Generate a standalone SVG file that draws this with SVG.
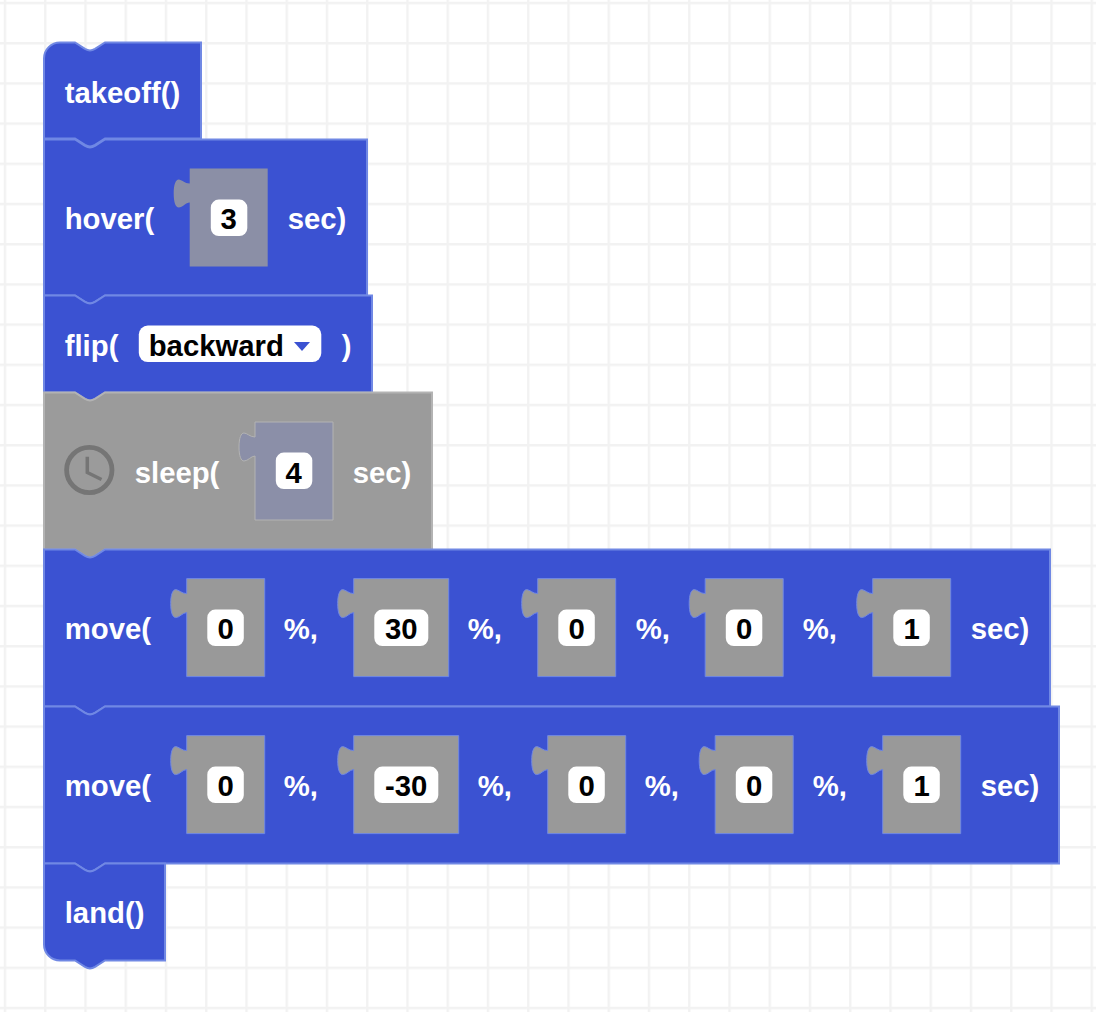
<svg xmlns="http://www.w3.org/2000/svg" width="1096" height="1012" viewBox="0 0 1096 1012">
<style>
text{font-family:"Liberation Sans",Arial,sans-serif;font-size:29.3px;font-weight:700;transform:translate(-.3px,.7px)}
.l{fill:#fff}
.v{fill:#000;text-anchor:middle}
.b{fill:#3b52d2;stroke:#7088e4;stroke-width:2;transform:translate(0,.4px)}
.s{fill:#9b9b9b;stroke:#b3b3b3;stroke-width:2;transform:translate(0,.4px)}
.i{fill:#999;stroke:#7088e4;stroke-width:1;transform:translate(-.3px,-.4px)}
.h{fill:#8b8fa6;stroke:none;transform:translate(-.3px,-.4px)}
.j{fill:#8b8fa8;stroke:#b3b3b3;stroke-width:1}
.w{fill:#fff;transform:translate(-.2px,-.4px)}
</style>
<defs>
<pattern id="grid" width="40.25" height="40.2" patternUnits="userSpaceOnUse" x="3.8" y="1.8">
<path d="M0,0h40.25v2.400h-40.25zM0,0h2.400v40.2h-2.400z" fill="#f2f2f2"/>
</pattern>
</defs>
<rect width="1096" height="1012" fill="#fff"/>
<rect width="1096" height="1012" fill="url(#grid)"/>
<g id="connectors"/>
<g id="takeoff">
<path class="b" d="M44,58A16,16 0 0 1 60,42H75L85,48.500Q90,51.500 95,48.500L105,42H201V138H105L95,144.500Q90,147.500 85,144.500L75,138H44Z"/>
<text class="l" x="65" y="102">takeoff()</text>
</g>
<g id="hover">
<path class="b" d="M44,139H75L85,145.500Q90,148.500 95,145.500L105,139H367V295H105L95,301.500Q90,304.500 85,301.500L75,295H44Z"/>
<text class="l" x="65" y="228">hover(</text>
<path class="h" d="M190,169h78v98h-78v-64c-4,0-7,5-11,5c-3,0-5,-5-5,-14c0,-9,2,-14,5,-14c3,0,6,4,11,4z"/>
<rect class="w" x="211" y="200" width="36.500" height="36.500" rx="8"/>
<text class="v" x="229" y="228">3</text>
<text class="l" x="288" y="228">sec)</text>
</g>
<g id="flip">
<path class="b" d="M44,295H75L85,301.500Q90,304.500 95,301.500L105,295H372V392H105L95,398.500Q90,401.500 85,398.500L75,392H44Z"/>
<text class="l" x="65" y="355">flip(</text>
<rect class="w" x="139" y="326" width="182.500" height="36.500" rx="9"/>
<text x="149" y="355" fill="#000">backward</text>
<path d="M294,342H310L302,351Z" fill="#3b52d2"/>
<text class="l" x="342" y="355">)</text>
</g>
<g id="sleep">
<path class="s" d="M44,392H75L85,398.500Q90,401.500 95,398.500L105,392H432V549H105L95,555.500Q90,558.500 85,555.500L75,549H44Z"/>
<circle cx="89.300" cy="470" r="22.700" fill="none" stroke="#757575" stroke-width="4.800"/>
<path d="M87.300,456.700V472.500L101.500,479.500" fill="none" stroke="#757575" stroke-width="3.500"/>
<text class="l" x="135" y="482">sleep(</text>
<path class="j" d="M255,422h78v98h-78v-64c-4,0-7,5-11,5c-3,0-5,-5-5,-14c0,-9,2,-14,5,-14c3,0,6,4,11,4z"/>
<rect class="w" x="276" y="453" width="36.500" height="36.500" rx="8"/>
<text class="v" x="294" y="482">4</text>
<text class="l" x="353" y="482">sec)</text>
</g>
<g id="move1">
<path class="b" d="M44,549H75L85,555.500Q90,558.500 95,555.500L105,549H1050V706H105L95,712.500Q90,715.500 85,712.500L75,706H44Z"/>
<text class="l" x="65" y="638">move(</text>
<path class="i" d="M187,579h78v98h-78v-64c-4,0-7,5-11,5c-3,0-5,-5-5,-14c0,-9,2,-14,5,-14c3,0,6,4,11,4z"/>
<rect class="w" x="207.500" y="610" width="36.500" height="36.500" rx="8"/>
<text class="v" x="226" y="638">0</text>
<text class="l" x="284" y="638">%,</text>
<path class="i" d="M354,579h95v98h-95v-64c-4,0-7,5-11,5c-3,0-5,-5-5,-14c0,-9,2,-14,5,-14c3,0,6,4,11,4z"/>
<rect class="w" x="374.500" y="610" width="54" height="36.500" rx="8"/>
<text class="v" x="401.500" y="638">30</text>
<text class="l" x="468" y="638">%,</text>
<path class="i" d="M538,579h78v98h-78v-64c-4,0-7,5-11,5c-3,0-5,-5-5,-14c0,-9,2,-14,5,-14c3,0,6,4,11,4z"/>
<rect class="w" x="558.500" y="610" width="36.500" height="36.500" rx="8"/>
<text class="v" x="577" y="638">0</text>
<text class="l" x="636" y="638">%,</text>
<path class="i" d="M705.500,579h78v98h-78v-64c-4,0-7,5-11,5c-3,0-5,-5-5,-14c0,-9,2,-14,5,-14c3,0,6,4,11,4z"/>
<rect class="w" x="726" y="610" width="36.500" height="36.500" rx="8"/>
<text class="v" x="744.500" y="638">0</text>
<text class="l" x="803" y="638">%,</text>
<path class="i" d="M873,579h78v98h-78v-64c-4,0-7,5-11,5c-3,0-5,-5-5,-14c0,-9,2,-14,5,-14c3,0,6,4,11,4z"/>
<rect class="w" x="893.500" y="610" width="36.500" height="36.500" rx="8"/>
<text class="v" x="912" y="638">1</text>
<text class="l" x="971" y="638">sec)</text>
</g>
<g id="move2">
<path class="b" d="M44,706H75L85,712.500Q90,715.500 95,712.500L105,706H1059V863H105L95,869.500Q90,872.500 85,869.500L75,863H44Z"/>
<text class="l" x="65" y="795">move(</text>
<path class="i" d="M187,736h78v98h-78v-64c-4,0-7,5-11,5c-3,0-5,-5-5,-14c0,-9,2,-14,5,-14c3,0,6,4,11,4z"/>
<rect class="w" x="207.500" y="767" width="36.500" height="36.500" rx="8"/>
<text class="v" x="226" y="795">0</text>
<text class="l" x="284" y="795">%,</text>
<path class="i" d="M354,736h105v98h-105v-64c-4,0-7,5-11,5c-3,0-5,-5-5,-14c0,-9,2,-14,5,-14c3,0,6,4,11,4z"/>
<rect class="w" x="374.500" y="767" width="64" height="36.500" rx="8"/>
<text class="v" x="406.500" y="795">-30</text>
<text class="l" x="478" y="795">%,</text>
<path class="i" d="M548,736h78v98h-78v-64c-4,0-7,5-11,5c-3,0-5,-5-5,-14c0,-9,2,-14,5,-14c3,0,6,4,11,4z"/>
<rect class="w" x="568.500" y="767" width="36.500" height="36.500" rx="8"/>
<text class="v" x="587" y="795">0</text>
<text class="l" x="645" y="795">%,</text>
<path class="i" d="M715.500,736h78v98h-78v-64c-4,0-7,5-11,5c-3,0-5,-5-5,-14c0,-9,2,-14,5,-14c3,0,6,4,11,4z"/>
<rect class="w" x="736" y="767" width="36.500" height="36.500" rx="8"/>
<text class="v" x="754.500" y="795">0</text>
<text class="l" x="813" y="795">%,</text>
<path class="i" d="M883,736h78v98h-78v-64c-4,0-7,5-11,5c-3,0-5,-5-5,-14c0,-9,2,-14,5,-14c3,0,6,4,11,4z"/>
<rect class="w" x="903.500" y="767" width="36.500" height="36.500" rx="8"/>
<text class="v" x="922" y="795">1</text>
<text class="l" x="981" y="795">sec)</text>
</g>
<g id="land">
<path class="b" d="M44,863H75L85,869.500Q90,872.500 95,869.500L105,863H165V960H105L95,966.500Q90,969.500 85,966.500L75,960H60A16,16 0 0 1 44,944Z"/>
<text class="l" x="65" y="922">land()</text>
</g>
</svg>
